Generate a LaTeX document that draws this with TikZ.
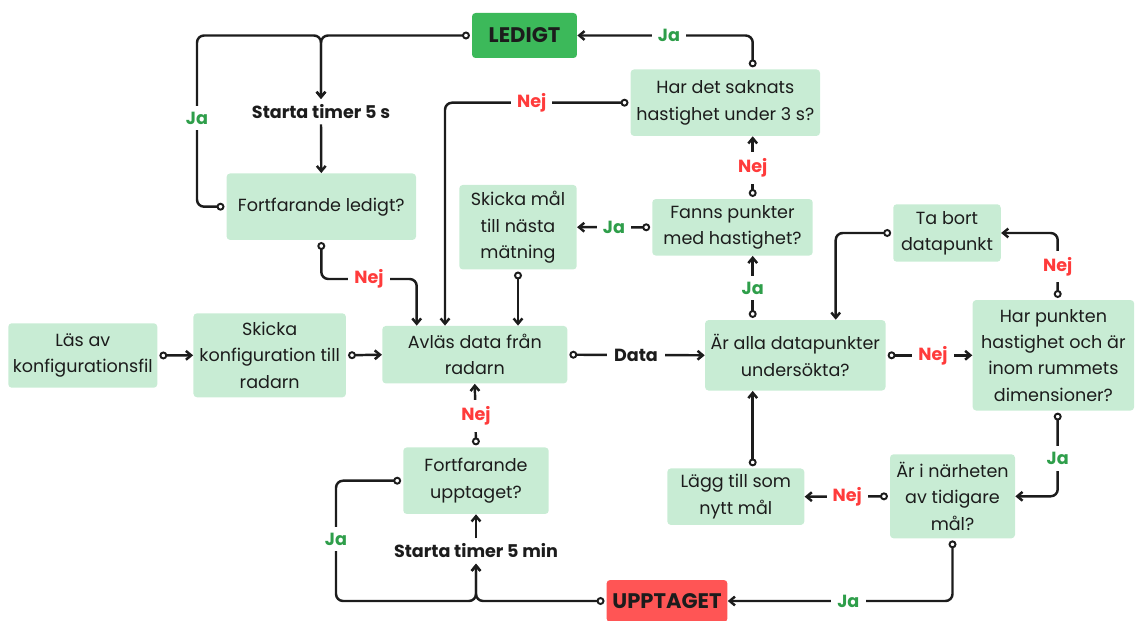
\documentclass[tikz,border=0pt]{standalone}
\usepackage{fontspec}
\setmainfont{Poppins}
\usetikzlibrary{arrows.meta}

\definecolor{procgreen}{HTML}{C8ECD4}
\definecolor{ledgreen}{HTML}{3CB95A}
\definecolor{uppred}{HTML}{FF5555}
\definecolor{jagreen}{HTML}{2E9E4A}
\definecolor{nejred}{HTML}{FF3B3B}
\definecolor{ink}{HTML}{1C1C1C}

\begin{document}
\begin{tikzpicture}[
    x=0.02cm, y=-0.02cm,
    font=\fontsize{10}{15}\selectfont,
    proc/.style={rectangle, rounded corners=2pt, fill=procgreen, text=ink, align=center, inner sep=2pt},
    status/.style={rectangle, rounded corners=2pt, text=ink, font=\fontsize{12}{14}\selectfont\bfseries},
    flow/.style={draw=ink, line width=1.4pt, rounded corners=4pt, shorten <=1pt,
        {Circle[open,length=4.5pt,width=4.5pt,line width=1.1pt]}-{Straight Barb[length=3pt,width=5pt]}},
    pil/.style={draw=ink, line width=1.4pt, -{Straight Barb[length=3pt,width=5pt]}},
    ja/.style={fill=white, text=jagreen, font=\fontsize{10}{12}\selectfont\bfseries, inner sep=3.5pt},
    nej/.style={ja, text=nejred},
    timer/.style={text=ink, font=\fontsize{10}{12}\selectfont\bfseries, inner sep=3pt}
]
\useasboundingbox (0,0) rectangle (1135,621);

% States
\node[status, fill=ledgreen, minimum width=2.1cm, minimum height=0.9cm] (ledigt) at (524.5,35.5) {LEDIGT};
\node[status, fill=uppred, minimum width=2.39cm, minimum height=0.84cm] (upptaget) at (667,601) {UPPTAGET};

% Start
\node[proc, minimum width=2.98cm, minimum height=1.29cm] (lasconf) at (82.8,355.5) {Läs av\\konfigurationsfil};
\node[proc, minimum width=3.05cm, minimum height=1.68cm] (skickaconf) at (269.7,355.3) {Skicka\\konfiguration till\\radarn};
\node[proc, minimum width=3.7cm, minimum height=1.15cm] (avlas) at (474.8,354.7) {Avläs data från\\radarn};

% Ledigt loop
\node[timer] (timer5s) at (321,111.7) {Starta timer 5 s};
\node[proc, minimum width=3.79cm, minimum height=1.33cm] (fledig) at (321.3,206.7) {Fortfarande ledigt?};

% Upptaget loop
\node[proc, minimum width=2.91cm, minimum height=1.33cm] (fupptaget) at (476,480.7) {Fortfarande\\upptaget?};
\node[timer] (timer5min) at (476,551) {Starta timer 5 min};

% Velocity check
\node[proc, minimum width=3.79cm, minimum height=1.33cm] (saknats) at (725.3,102.7) {Har det saknats\\hastighet under 3 s?};
\node[proc, minimum width=3.21cm, minimum height=1.13cm] (fanns) at (732.5,227.3) {Fanns punkter\\med hastighet?};
\node[proc, minimum width=2.35cm, minimum height=1.69cm] (skickamal) at (518,227.2) {Skicka mål\\till nästa\\mätning};

% Data points
\node[proc, minimum width=3.61cm, minimum height=1.41cm] (alla) at (795.3,355.3) {Är alla datapunkter\\undersökta?};
\node[proc, minimum width=3.23cm, minimum height=2.21cm] (punkten) at (1053.4,355.3) {Har punkten\\hastighet och är\\inom rummets\\dimensioner?};
\node[proc, minimum width=2.15cm, minimum height=1.15cm] (tabort) at (947,233) {Ta bort\\datapunkt};
\node[proc, minimum width=2.5cm, minimum height=1.68cm] (narheten) at (952.5,496.3) {Är i närheten\\av tidigare\\mål?};
\node[proc, minimum width=2.74cm, minimum height=1.13cm] (lagg) at (735.8,496.7) {Lägg till som\\nytt mål};

% Bends
\coordinate (jaturn1) at (197,35.5);
\coordinate (jaturn2) at (336,601);
\coordinate (nejturn) at (416.7,279);
\coordinate (x445) at (445,0);
\coordinate (x753) at (752.7,0);
\coordinate (x836) at (835.7,0);
\coordinate (x1058) at (1057.7,0);

% Arrows
\draw[flow] (lasconf.east) -- (skickaconf.west);
\draw[flow] (skickaconf.east) -- (avlas.west);
\draw[flow] (ledigt.west) -| (timer5s.north);
\draw[flow] (fledig.west) -| (jaturn1) -| (timer5s.north);
\draw[pil] (timer5s.south) -- (fledig.north);
\draw[flow] (fledig.south) |- (nejturn) -- (nejturn |- avlas.north);
\draw[flow] (saknats.west) -| (x445 |- avlas.north);
\draw[flow] (skickamal.south) -- (skickamal.south |- avlas.north);
\draw[flow] (fanns.west) -- (skickamal.east);
\draw[flow] (fanns.north -| x753) -- (saknats.south -| x753);
\draw[flow] (saknats.north -| x753) |- (ledigt.east);
\draw[flow] (avlas.east) -- (alla.west);
\draw[flow] (alla.north -| x753) -- (fanns.south -| x753);
\draw[flow] (tabort.west) -| (x836 |- alla.north);
\draw[flow] (punkten.north -| x1058) |- (tabort.east);
\draw[flow] (alla.east) -- (punkten.west);
\draw[flow] (punkten.south -| x1058) |- (narheten.east);
\draw[flow] (narheten.west) -- (lagg.east);
\draw[flow] (lagg.north -| x753) -- (alla.south -| x753);
\draw[flow] (narheten.south) |- (upptaget.east);
\draw[flow] (upptaget.west) -| (timer5min.south);
\draw[flow] (fupptaget.west) -| (jaturn2) -| (timer5min.south);
\draw[pil] (timer5min.north) -- (fupptaget.south);
\draw[flow] (fupptaget.north) -- (avlas.south);

% Labels
\node[ja] (ja1) at (197,118) {Ja};
\node[nej] (nej1) at (369,279) {Nej};
\node[nej] (nej2) at (531.7,102.7) {Nej};
\node[ja] (ja2) at (669,35.5) {Ja};
\node[nej] (nej3) at (752.7,168) {Nej};
\node[ja] (ja3) at (614,227.3) {Ja};
\node[ja] (ja4) at (752.7,288) {Ja};
\node[timer, fill=white, inner sep=4pt] (data) at (636,355.5) {Data};
\node[nej] (nej4) at (933,355.3) {Nej};
\node[nej] (nej5) at (1057.7,266.7) {Nej};
\node[ja] (ja5) at (1057.7,458.3) {Ja};
\node[nej] (nej6) at (847.3,496.7) {Nej};
\node[ja] (ja6) at (848.3,601) {Ja};
\node[ja] (ja7) at (336,539) {Ja};
\node[nej] (nej7) at (476,416) {Nej};

\end{tikzpicture}
\end{document}
